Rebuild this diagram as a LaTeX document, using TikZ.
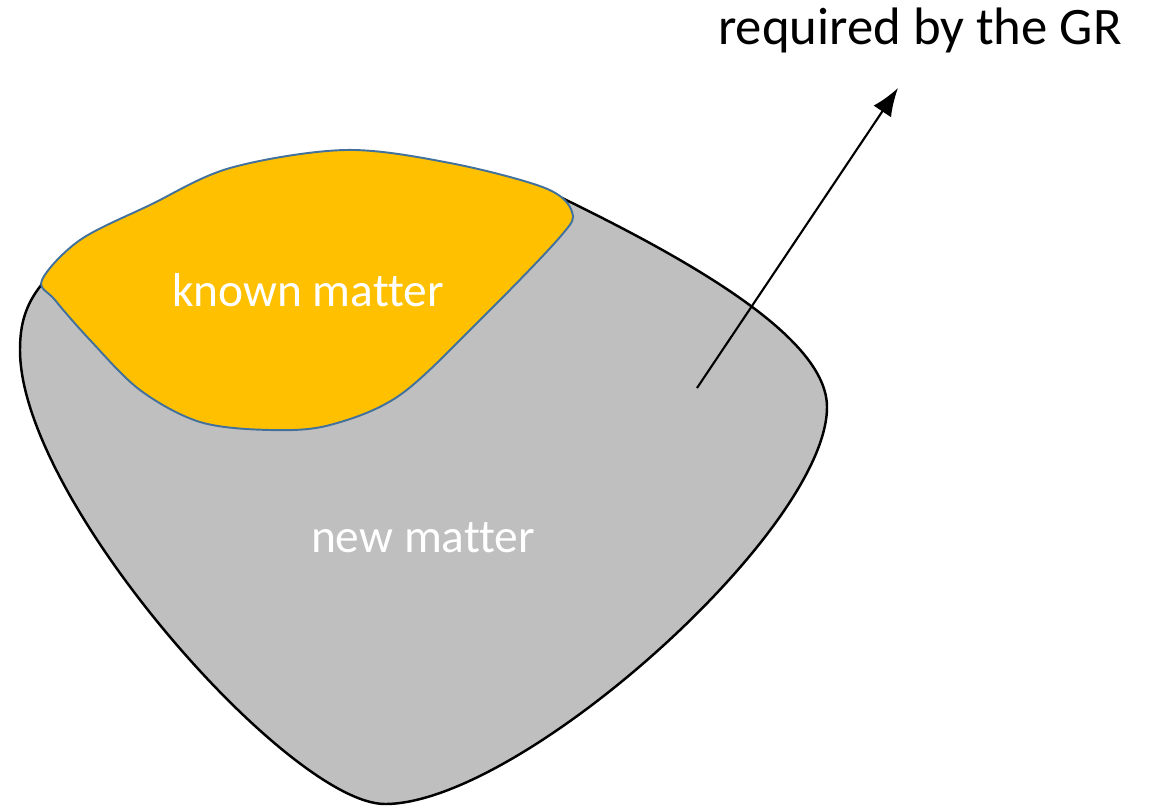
\documentclass[tikz,border=0pt]{standalone}
\usepackage{fontspec}
\setmainfont{Carlito}[Ligatures=NoCommon]
\usetikzlibrary{arrows.meta}
\definecolor{knowngold}{HTML}{FFC000}
\definecolor{knownedge}{HTML}{41719C}
\definecolor{newgray}{HTML}{BFBFBF}

\begin{document}
\begin{tikzpicture}[
        x=0.02cm, y=-0.02cm,
        every node/.style={font=\fontsize{30}{36}\selectfont, align=center},
        blob/.style={smooth cycle, tension=0.55},
        matterlabel/.style={text=white, font=\fontsize{27}{32}\selectfont}
    ]
    \useasboundingbox (0,0) rectangle (1157,806);
    % new matter: the grey region
    \draw[fill=newgray, draw=black, line width=1.4pt]
        (42,284) .. controls (25,305) and (20,325) .. (20,350)
        .. controls (20,500) and (290,804) .. (385,804)
        .. controls (520,804) and (827,530) .. (827,407)
        .. controls (827,340) and (700,265) .. (560,197)
        .. controls (520,180) and (300,200) .. cycle;
    % known matter: the gold region on top
    \draw[blob, fill=knowngold, draw=knownedge, line width=1.1pt] plot coordinates {
        (42,280) (80,240) (150,205) (230,168) (345,150) (450,163) (545,188)
        (572,212) (560,237) (480,320) (400,395) (330,425) (270,430) (200,422)
        (140,390) (90,340) (55,300)};
    \node[matterlabel] (known) at (308,290) {known matter};
    \node[matterlabel] (new) at (423,538) {new matter};
    \node (gr) at (920,30) {required by the GR};
    \coordinate (tail) at (697,388);
    \coordinate (head) at (898,88);
    \draw[-{Latex[length=16pt, width=12pt]}, line width=1.2pt] (tail) -- (head);
\end{tikzpicture}
\end{document}
